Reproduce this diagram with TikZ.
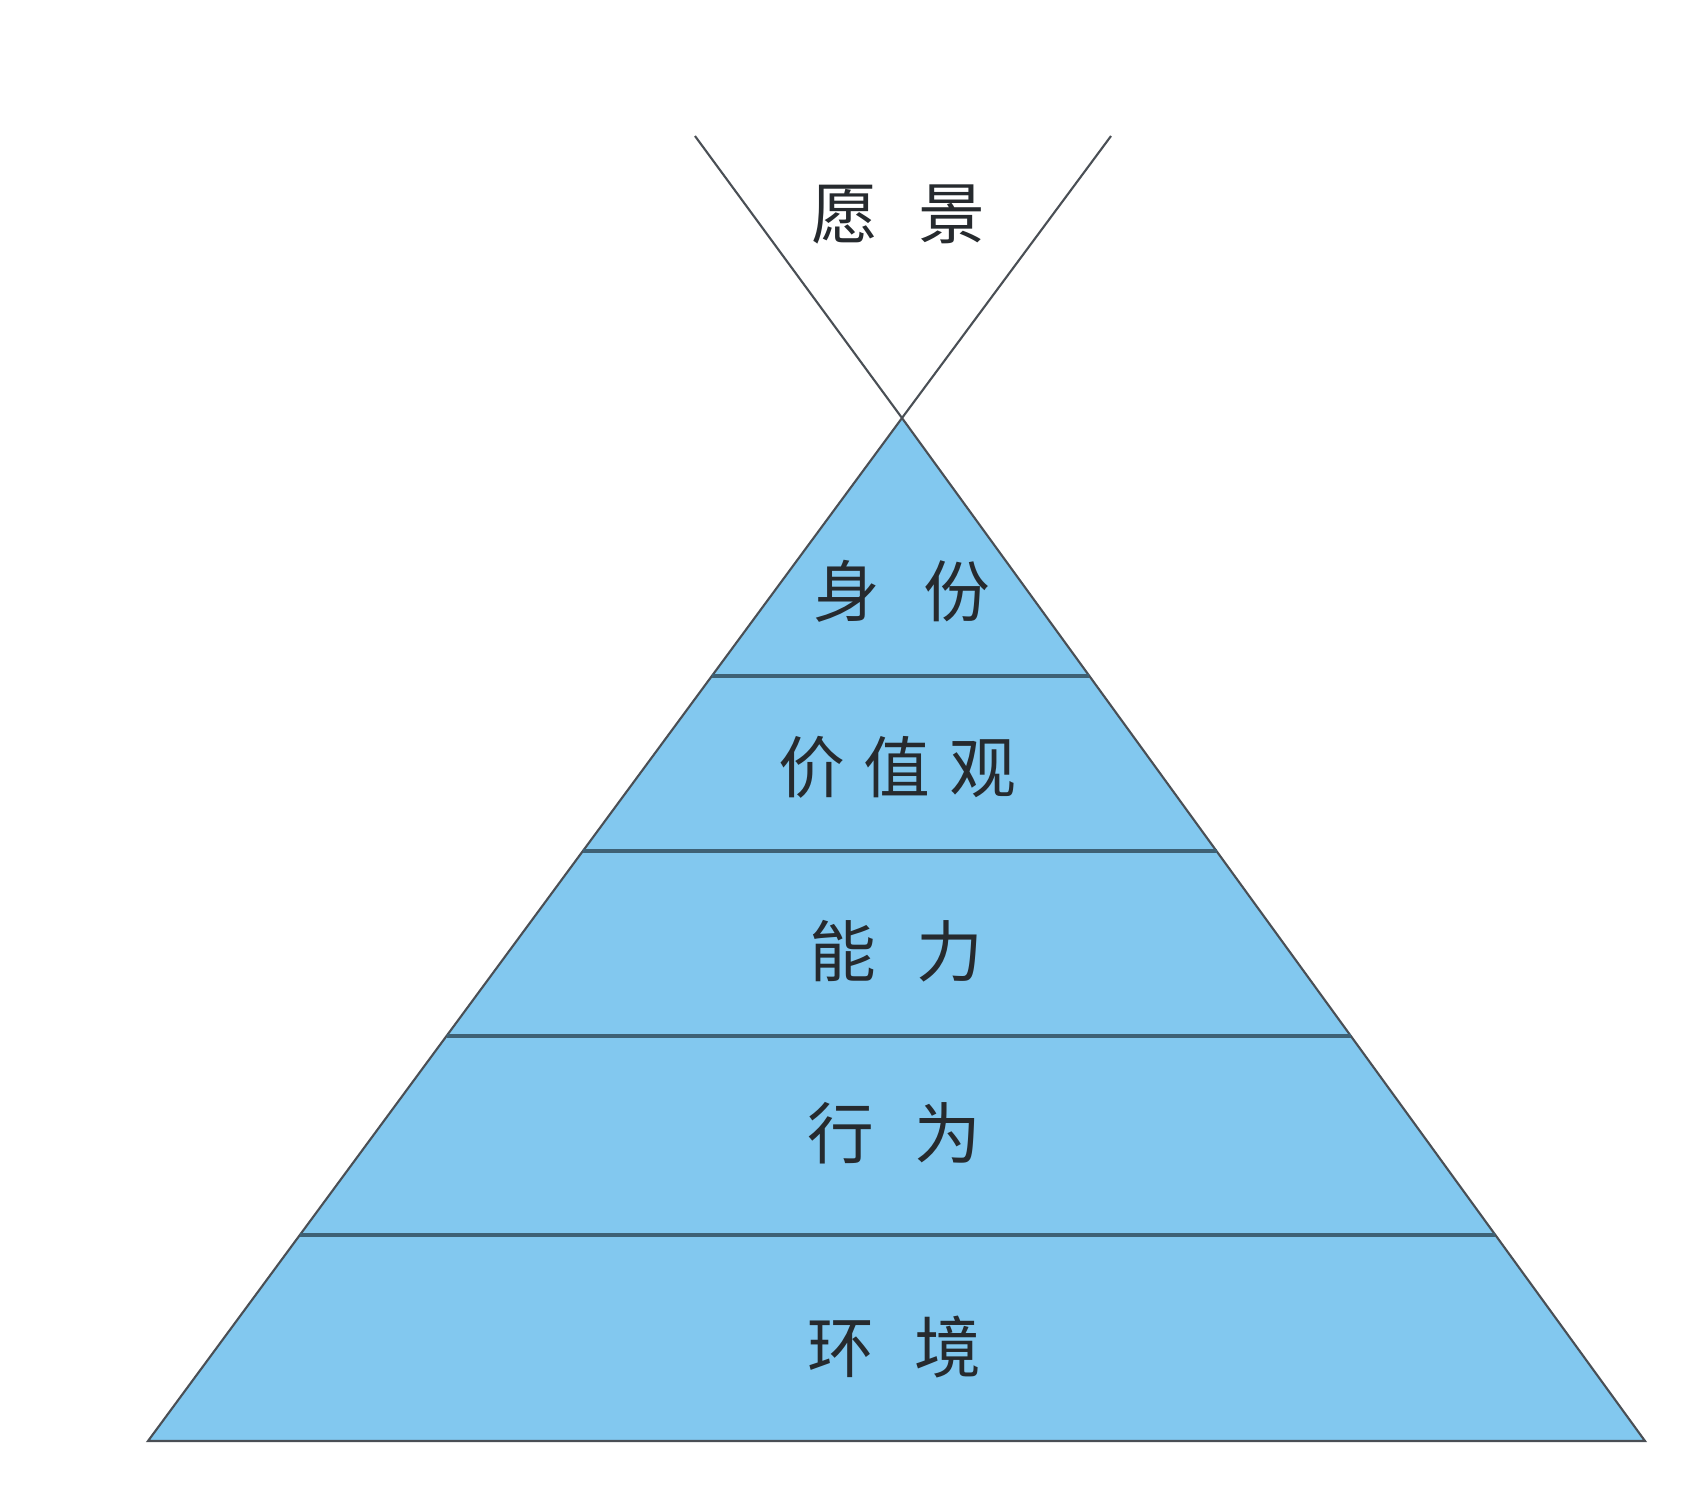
\documentclass[tikz,border=0pt]{standalone}
\usepackage{fontspec}
\setmainfont{Noto Sans CJK SC}
\usepackage{tikz}
\usepackage{xcolor}
\usetikzlibrary{calc}

\definecolor{pyrblue}{HTML}{82C8EF}
\definecolor{edgegray}{HTML}{4A4F55}
\definecolor{bandline}{HTML}{3E6175}
\definecolor{labelink}{HTML}{262A2E}

\begin{document}
\begin{tikzpicture}[x=0.1mm, y=-0.1mm,
    level/.style={text=labelink, font=\fontsize{19}{21}\selectfont, inner sep=0pt}]
    \useasboundingbox (0,0) rectangle (1704,1502);

    % Corner points of the pyramid and the open V above it
    \coordinate (apex) at (902,418);
    \coordinate (bl) at (148,1441);
    \coordinate (br) at (1645,1441);
    \coordinate (vl) at (695,136);
    \coordinate (vr) at (1111,136);

    % Pyramid body
    \draw[line width=0.6pt, draw=edgegray, fill=pyrblue] (apex) -- (bl) -- (br) -- cycle;

    % Band separators
    \foreach \t in {0.2522, 0.4233, 0.6041, 0.7986}
        \draw[line width=0.9pt, draw=bandline] ($(apex)!\t!(bl)$) -- ($(apex)!\t!(br)$);

    % Vision funnel
    \draw[line width=0.6pt, draw=edgegray] (vl) -- (apex) -- (vr);

    % Labels
    \node[level] (vision) at (898,214) {愿\hspace{0.6em}景};
    \node[level] (identity) at (902,591) {身\hspace{0.65em}份};
    \node[level] (values) at (897,767) {价\hspace{0.28em}值\hspace{0.28em}观};
    \node[level] (ability) at (896,951) {能\hspace{0.6em}力};
    \node[level] (behavior) at (894,1133) {行\hspace{0.6em}为};
    \node[level] (environment) at (894,1347) {环\hspace{0.6em}境};

\end{tikzpicture}
\end{document}
